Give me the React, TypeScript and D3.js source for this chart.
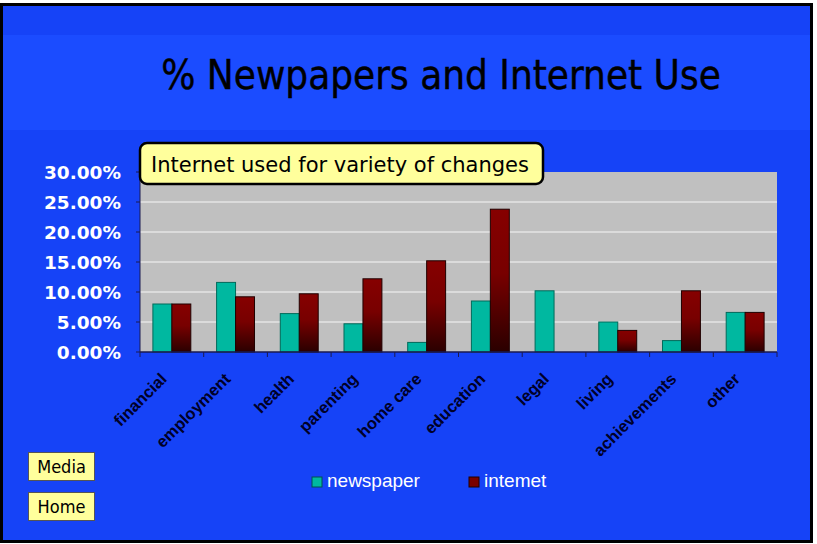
import React from "react";
import * as d3 from "d3";

const categories = ["financial", "employment", "health", "parenting", "home care", "education", "legal", "living", "achievements", "other"];
const newspaper = [8.0, 11.6, 6.4, 4.7, 1.6, 8.5, 10.2, 5.0, 1.9, 6.6];
const internet = [8.0, 9.2, 9.7, 12.2, 15.2, 23.8, 0, 3.6, 10.2, 6.6];
const seriesNames = ["newspaper", "internet"];
const yTicks = [0, 5, 10, 15, 20, 25, 30];
const titleText = "% Newpapers and Internet Use";
const noteText = "Internet used for variety of changes";
const legendLabels = ["newspaper", "intemet"];
const buttons = ["Media", "Home"];

const W = 817;
const H = 544;
const plot = { left: 140, right: 777, top: 172, bottom: 352 };

export default function App() {
  const x = d3.scaleBand().domain(categories).range([plot.left, plot.right]).paddingInner(0).paddingOuter(0);
  const xs = d3.scaleBand().domain(seriesNames).range([0, x.bandwidth()]).paddingInner(0).paddingOuter(0.68);
  const y = d3.scaleLinear().domain([0, 30]).range([plot.bottom, plot.top]);
  const fmt = (v: number) => d3.format(".2f")(v) + "%";
  const sets = [newspaper, internet];
  const bounds = categories.map((_, i) => plot.left + i * x.step()).concat([plot.right]);

  return (
    <svg width={W} height={H} style={{ position: "absolute", left: 0, top: 0 }}>
      <defs>
        <linearGradient id="redGrad" x1="0" y1="0" x2="0" y2="1">
          <stop offset="0" stopColor="#860000" />
          <stop offset="0.45" stopColor="#780000" />
          <stop offset="1" stopColor="#2a0000" />
        </linearGradient>
      </defs>
      <rect x={0} y={0} width={W} height={H} fill="#ffffff" />
      <rect x={1.5} y={4.5} width={810} height={537} fill="#1643f7" stroke="#000" strokeWidth={3} />
      <rect x={3} y={35} width={807} height={95} fill="#1b4cff" />
      <text x={441} y={89} textAnchor="middle" fontFamily="'DejaVu Sans Condensed', 'DejaVu Sans', sans-serif" fontSize={40} fill="#000" stroke="#000" strokeWidth={0.4}>{titleText}</text>

      <rect x={plot.left} y={plot.top} width={plot.right - plot.left} height={plot.bottom - plot.top} fill="#c0c0c0" />
      {yTicks.filter((t) => t > 0 && t < 30).map((t) => (
        <line key={t} x1={plot.left} x2={plot.right} y1={y(t)} y2={y(t)} stroke="#e4e4e4" strokeWidth={1.5} />
      ))}

      {categories.map((c, i) =>
        seriesNames.map((s, j) => {
          const v = sets[j][i];
          if (v <= 0) return null;
          return (
            <rect
              key={c + s}
              x={(x(c) as number) + (xs(s) as number)}
              y={y(v)}
              width={xs.bandwidth()}
              height={y(0) - y(v)}
              fill={j === 0 ? "#00b8a0" : "url(#redGrad)"}
              stroke={j === 0 ? "#006a5a" : "#200000"}
              strokeWidth={1}
            />
          );
        })
      )}

      <line x1={plot.left} x2={plot.left} y1={plot.top} y2={plot.bottom} stroke="#1a1a50" strokeWidth={1} />
      <line x1={plot.left} x2={plot.right} y1={plot.bottom} y2={plot.bottom} stroke="#1a1a50" strokeWidth={1.5} />
      {yTicks.map((t) => (
        <g key={t}>
          <line x1={plot.left - 4} x2={plot.left} y1={y(t)} y2={y(t)} stroke="#1a1a50" />
          <text x={121} y={y(t) + 6.5} textAnchor="end" fontFamily="'DejaVu Sans', Verdana, sans-serif" fontWeight="bold" fontSize={18.5} fill="#ffffff">{fmt(t)}</text>
        </g>
      ))}
      {bounds.map((b, i) => (
        <line key={i} x1={b} x2={b} y1={plot.bottom} y2={plot.bottom + 5} stroke="#1a1a50" />
      ))}
      {categories.map((c) => {
        const cx = (x(c) as number) + x.bandwidth() / 2 - 4;
        const cy = 380;
        return (
          <text key={c} x={cx} y={cy} transform={`rotate(-45 ${cx} ${cy})`} textAnchor="end" fontFamily="'Liberation Sans', Arial, sans-serif" fontWeight="bold" fontSize={16.5} fill="#000028">{c}</text>
        );
      })}

      <rect x={140} y={143} width={403} height={41} rx={7} fill="#ffff9c" stroke="#000" strokeWidth={2.5} />
      <text x={151} y={172} fontFamily="'DejaVu Sans', Verdana, sans-serif" fontSize={21} fill="#000">{noteText}</text>

      {legendLabels.map((l, i) => {
        const lx = [312, 469][i];
        return (
          <g key={l}>
            <rect x={lx} y={477} width={10} height={10} fill={i === 0 ? "#00b8a0" : "#7a0000"} stroke={i === 0 ? "#005050" : "#200000"} />
            <text x={lx + 15} y={487} fontFamily="'Liberation Sans', Arial, sans-serif" fontSize={19} fill="#ffffff">{l}</text>
          </g>
        );
      })}

      {buttons.map((b, i) => (
        <g key={b}>
          <rect x={28.5} y={452.5 + i * 40} width={66} height={28} fill="#ffff9c" stroke="#555" strokeWidth={1} />
          <text x={61.5} y={473 + i * 40} textAnchor="middle" fontFamily="'DejaVu Sans Condensed', 'DejaVu Sans', sans-serif" fontSize={18} fill="#000">{b}</text>
        </g>
      ))}
    </svg>
  );
}
